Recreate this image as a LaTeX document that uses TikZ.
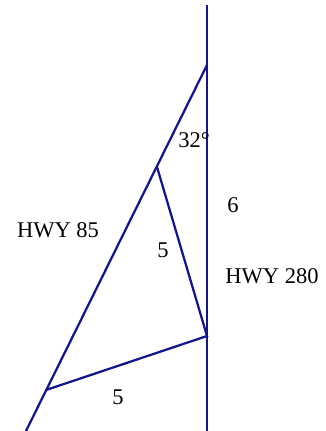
\documentclass[tikz,border=0pt]{standalone}
\usepackage{fontspec}
\setmainfont{Liberation Serif}
\usetikzlibrary{positioning}
\definecolor{roadblue}{RGB}{20,20,140}

\begin{document}
\begin{tikzpicture}[x=0.025cm, y=-0.025cm,
  road/.style={draw=roadblue, line width=1.6pt},
  lbl/.style={font=\fontsize{16}{18}\selectfont, inner sep=0pt},
]
\useasboundingbox (0,0) rectangle (325,431);

\coordinate (top) at (207,5);
\coordinate (bot) at (207,431);
\coordinate (apex) at (207,65);
\coordinate (upper) at (157,167);
\coordinate (mid) at (207,336);
\coordinate (lower) at (46,390);
\coordinate (exit) at (26,431);

\draw[road] (top) -- (bot);
\draw[road] (apex) -- (exit);
\draw[road] (upper) -- (mid) -- (lower);

\node[lbl] (angle) at (194,140) {32\textdegree};
\node[lbl] (six) at (233,205) {6};
\node[lbl] (hwy85) at (58,230) {HWY 85};
\node[lbl] (fiveA) at (163,250) {5};
\node[lbl] (hwy280) at (272,276) {HWY 280};
\node[lbl] (fiveB) at (118,397) {5};
\end{tikzpicture}
\end{document}
